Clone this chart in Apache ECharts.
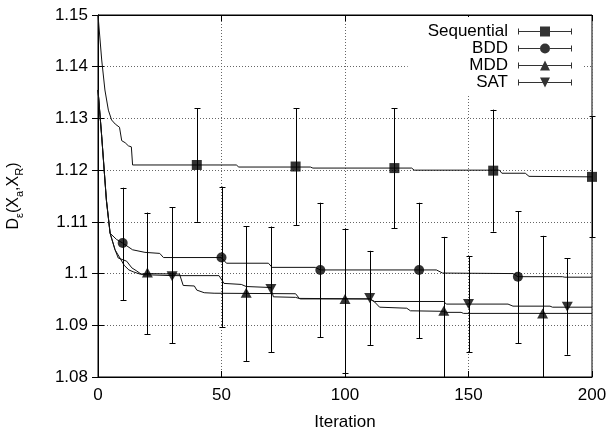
<!DOCTYPE html>
<html><head><meta charset="utf-8">
<script src="https://cdn.jsdelivr.net/npm/echarts@6/dist/echarts.min.js"></script>
<style>html,body{margin:0;padding:0;background:#fff}#c{width:609px;height:431px}</style>
</head><body><div id="c"></div>
<script>
const xTicks = [0, 50, 100, 150, 200];
const yTicks = [1.08, 1.09, 1.10, 1.11, 1.12, 1.13, 1.14, 1.15];
const seriesNames = ['Sequential', 'BDD', 'MDD', 'SAT'];

const seqLine = [[0,1.15],[1.5,1.1413],[2.8,1.1355],[4.2,1.1316],[5.5,1.1297],[7,1.1289],[8.7,1.1283],[9.6,1.1257],[11,1.1253],[12.3,1.1247],[13.5,1.1245],[14,1.121],[56,1.121],[57,1.1206],[86,1.1206],[87,1.1204],[127,1.1204],[128,1.12],[162.5,1.12],[163.5,1.1194],[173,1.1194],[174.5,1.1188],[200,1.1187]];
const bddLine = [[0,1.1355],[1.5,1.1265],[3.4,1.1142],[4.9,1.1078],[7.5,1.1066],[10,1.1059],[14,1.1046],[19,1.1041],[25,1.1039],[26.5,1.1031],[50,1.1031],[52,1.102],[69,1.102],[70.5,1.1012],[88,1.1012],[90,1.1007],[137,1.1007],[139.5,1.1001],[168,1.1],[170,1.0994],[188,1.0994],[189,1.0993],[200,1.0993]];
const mddLine = [[0,1.1355],[1.5,1.1265],[3.4,1.1142],[4.9,1.1078],[6.9,1.1046],[8.9,1.103],[10.6,1.1016],[12.5,1.1007],[14.5,1.1003],[17,1.0999],[20,1.1],[33,1.0999],[34.5,1.0977],[39,1.0976],[40,1.0968],[43,1.0963],[47,1.0962],[80,1.0961],[81.5,1.0952],[110,1.0951],[112,1.0945],[114,1.0935],[125,1.0933],[126.5,1.0928],[140,1.0927],[141,1.0925],[147,1.0925],[148,1.0923],[200,1.0923]];
const satLine = [[0,1.1355],[1.5,1.1265],[3.4,1.1142],[4.9,1.1078],[6.9,1.1046],[8.2,1.103],[11.6,1.1024],[13.7,1.1011],[15.7,1.1005],[17.7,1.0998],[30,1.0996],[49,1.0996],[51,1.0981],[58,1.0979],[60,1.0975],[70,1.0973],[71,1.0955],[80,1.0954],[82,1.0951],[110,1.0951],[112,1.0946],[140,1.0946],[141,1.0941],[166,1.0941],[168,1.0937],[183,1.0937],[184,1.0935],[200,1.0935]];

const seqX = [40, 80, 120, 160, 200];
const seqMean = [1.121, 1.1207, 1.1204, 1.1199, 1.1187];
const seqLow = [1.11, 1.1094, 1.1088, 1.1081, 1.107];
const seqHigh = [1.132, 1.132, 1.132, 1.1317, 1.1304];

const bddX = [10, 50, 90, 130, 170];
const bddMean = [1.1059, 1.1031, 1.1007, 1.1007, 1.0994];
const bddLow = [1.0948, 1.0896, 1.0877, 1.0875, 1.0865];
const bddHigh = [1.1166, 1.1168, 1.1137, 1.1137, 1.1121];

const mddX = [20, 60, 100, 140, 180];
const mddMean = [1.1002, 1.0963, 1.0951, 1.0928, 1.0923];
const mddLow = [1.0883, 1.0831, 1.0808, 1.0785, 1.0775];
const mddHigh = [1.1118, 1.1092, 1.1087, 1.1071, 1.1073];

const satX = [30, 70, 110, 150, 190];
const satMean = [1.0995, 1.097, 1.0953, 1.0941, 1.0936];
const satLow = [1.0865, 1.0848, 1.0862, 1.0848, 1.0843];
const satHigh = [1.1128, 1.1091, 1.1044, 1.1034, 1.103];

const FONT = '"Liberation Sans", Arial, Helvetica, sans-serif';
const FS = 17;
const symbols = ['rect', 'circle', 'triangle', 'path://M0,0L10,0L5,10Z'];
const symbolSizes = [10, 10, [11, 10], [11, 10]];
const legendIcons = [
  'path://M0,4.5h22v1h-22z M32,4.5h22v1h-22z M0,2h1v6h-1z M53,2h1v6h-1z M22,0h10v10h-10z',
  'path://M0,4.5h22v1h-22z M32,4.5h22v1h-22z M0,2h1v6h-1z M53,2h1v6h-1z M22,5 A5,5 0 1,1 32,5 A5,5 0 1,1 22,5 Z',
  'path://M0,4.5h24.5v1h-24.5z M29.5,4.5h24.5v1h-24.5z M0,2h1v6h-1z M53,2h1v6h-1z M22,10 L27,0 L32,10 Z',
  'path://M0,4.5h24.5v1h-24.5z M29.5,4.5h24.5v1h-24.5z M0,2h1v6h-1z M53,2h1v6h-1z M22,0 L32,0 L27,10 Z'
];

const lines = [seqLine, bddLine, mddLine, satLine];
const pts = [
  [seqX, seqMean, seqLow, seqHigh],
  [bddX, bddMean, bddLow, bddHigh],
  [mddX, mddMean, mddLow, mddHigh],
  [satX, satMean, satLow, satHigh]
];

function errRender(params, api) {
  const x = api.value(0), lo = api.value(1), hi = api.value(2);
  const cs = params.coordSys;
  const top = cs.y, bottom = cs.y + cs.height;
  const pHi = api.coord([x, hi]);
  const pLo = api.coord([x, lo]);
  const px = Math.round(pHi[0]) + 0.5;
  const yHi = Math.max(pHi[1], top), yLo = Math.min(pLo[1], bottom);
  const st = { stroke: '#000', lineWidth: 1 };
  const ch = [{ type: 'line', shape: { x1: px, y1: yHi, x2: px, y2: yLo }, style: st }];
  const cw = 3;
  if (pHi[1] >= top) ch.push({ type: 'line', shape: { x1: px - cw, y1: Math.round(yHi) + 0.5, x2: px + cw, y2: Math.round(yHi) + 0.5 }, style: st });
  if (pLo[1] <= bottom) ch.push({ type: 'line', shape: { x1: px - cw, y1: Math.round(yLo) + 0.5, x2: px + cw, y2: Math.round(yLo) + 0.5 }, style: st });
  return { type: 'group', children: ch };
}

const series = [];
lines.forEach((d, i) => {
  series.push({
    name: seriesNames[i] + ' curve', type: 'line', data: d, symbol: 'none', showSymbol: false,
    lineStyle: { color: '#111', width: 1 }, itemStyle: { color: '#111' }, z: 2, silent: true
  });
});
pts.forEach((p, i) => {
  series.push({
    name: seriesNames[i] + ' err', type: 'custom', renderItem: errRender,
    data: p[0].map((x, k) => [x, p[2][k], p[3][k]]), encode: { x: 0, y: [1, 2] }, z: 3, silent: true
  });
});
pts.forEach((p, i) => {
  series.push({
    name: seriesNames[i], type: 'scatter', data: p[0].map((x, k) => [x, p[1][k]]),
    symbol: symbols[i], symbolSize: symbolSizes[i], itemStyle: { color: '#000' }, clip: false, z: 4
  });
});

const yInt = Math.round((yTicks[1] - yTicks[0]) * 1e6) / 1e6;
const xInt = xTicks[1] - xTicks[0];
const gridLine = { show: true, lineStyle: { color: '#666', type: [1, 2], width: 1 } };
const axisBase = { axisLine: { show: true, lineStyle: { color: '#000', width: 1 } }, axisTick: { show: true, inside: true, length: 6, lineStyle: { color: '#000' } } };

const chart = echarts.init(document.getElementById('c'), null, { renderer: 'canvas' });
chart.setOption({
  animation: false,
  backgroundColor: '#fff',
  textStyle: { fontFamily: FONT },
  grid: { left: 98, right: 17, top: 15, bottom: 54, show: true, borderColor: '#000', borderWidth: 1, containLabel: false, outerBoundsMode: 'none' },
  legend: {
    data: seriesNames.map((n, i) => ({ name: n, icon: legendIcons[i] })),
    orient: 'vertical', align: 'right', right: 27, top: 17,
    itemWidth: 54, itemHeight: 10, itemGap: 0,
    padding: [6, 10, 5, 20], backgroundColor: '#fff', selectedMode: false,
    textStyle: { fontSize: FS, color: '#000', fontFamily: FONT, lineHeight: 17, padding: [0, 5, 0, 0] }
  },
  xAxis: [
    Object.assign({
      type: 'value', min: xTicks[0], max: xTicks[xTicks.length - 1], interval: xInt,
      name: 'Iteration', nameLocation: 'middle', nameGap: 37,
      nameTextStyle: { fontSize: FS, color: '#000', fontFamily: FONT },
      axisLabel: { fontSize: FS, color: '#000', margin: 10, fontFamily: FONT },
      splitLine: gridLine
    }, axisBase),
    Object.assign({
      type: 'value', position: 'top', min: xTicks[0], max: xTicks[xTicks.length - 1], interval: xInt,
      axisLabel: { show: false }, splitLine: { show: false }
    }, axisBase)
  ],
  yAxis: [
    Object.assign({
      type: 'value', min: yTicks[0], max: yTicks[yTicks.length - 1], interval: yInt,
      name: '{m|D}{s|ε}{m|(X}{s|a}{m|,X}{s|R}{m|)}', nameLocation: 'middle', nameGap: 73,
      nameTextStyle: {
        color: '#000',
        rich: {
          m: { fontSize: 16, fontFamily: FONT, color: '#000', verticalAlign: 'top' },
          s: { fontSize: 11, fontFamily: FONT, color: '#000', verticalAlign: 'bottom', padding: [8, 0, 0, 0] }
        }
      },
      axisLabel: { fontSize: FS, color: '#000', margin: 10, fontFamily: FONT, formatter: v => String(+v.toFixed(2)) },
      splitLine: gridLine
    }, axisBase),
    Object.assign({
      type: 'value', position: 'right', min: yTicks[0], max: yTicks[yTicks.length - 1], interval: yInt,
      axisLabel: { show: false }, splitLine: { show: false }
    }, axisBase)
  ],
  series: series
});
</script></body></html>
